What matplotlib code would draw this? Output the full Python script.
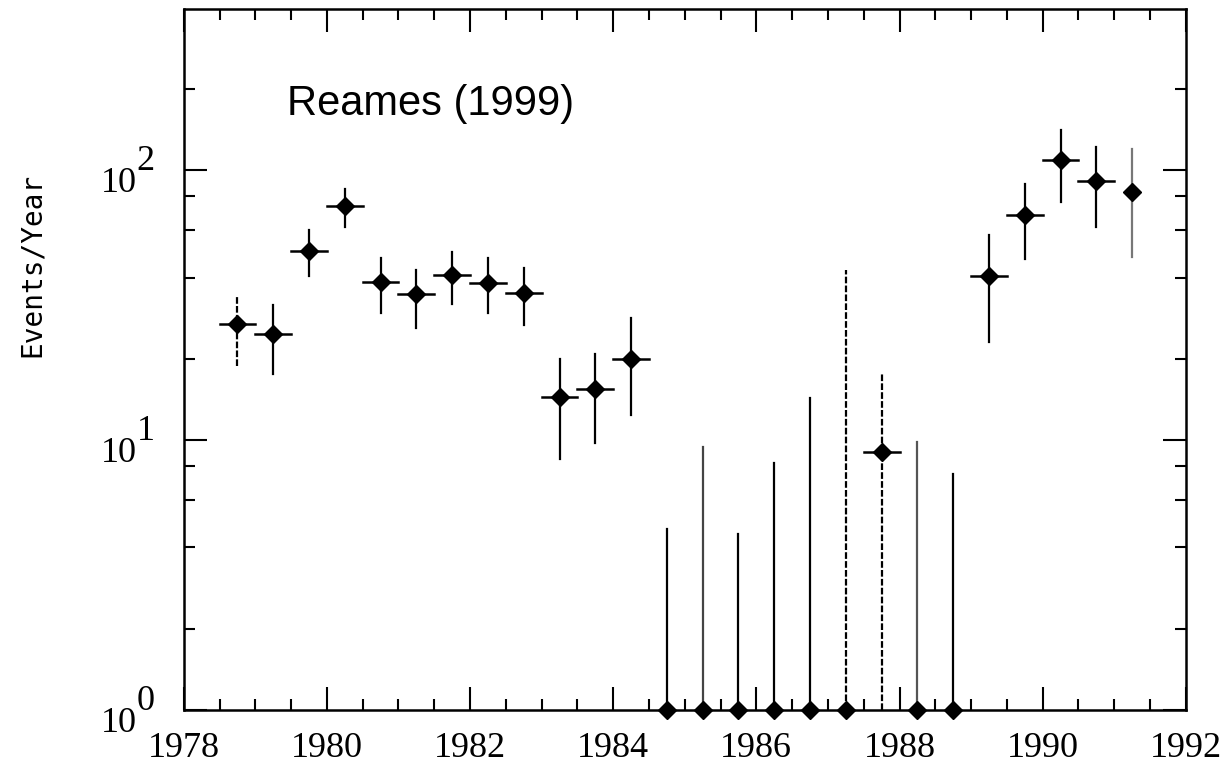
import matplotlib.pyplot as plt
import matplotlib.ticker as mticker
import numpy as np

# Tasa anual de eventos por semestre (centro del bin en años)
anios = [1978.75, 1979.25, 1979.75, 1980.25, 1980.75, 1981.25, 1981.75,
         1982.25, 1982.75, 1983.25, 1983.75, 1984.25, 1984.75, 1985.25,
         1985.75, 1986.25, 1986.75, 1987.25, 1987.75, 1988.25, 1988.75,
         1989.25, 1989.75, 1990.25, 1990.75, 1991.25]
eventos = [26.9, 24.7, 50.1, 73.5, 38.5, 34.7, 40.8, 38.1, 35.0, 14.4,
           15.4, 20.0, 1.0, 1.0, 1.0, 1.0, 1.0, 1.0, 9.0, 1.0, 1.0,
           40.5, 68.1, 108.9, 91.0, 82.9]
cota_sup = [34.4, 31.6, 59.9, 85.0, 47.2, 42.6, 49.7, 47.2, 43.4, 19.9,
            20.8, 28.3, 4.7, 9.4, 4.5, 8.2, 14.3, 42.6, 17.7, 9.8, 7.5,
            57.4, 88.7, 140.7, 121.7, 119.6]
cota_inf = [18.8, 17.5, 40.5, 61.5, 29.5, 26.0, 31.9, 29.5, 26.7, 8.5,
            9.75, 12.4, 1.0, 1.0, 1.0, 1.0, 1.0, 1.0, 1.0, 1.0, 1.0,
            23.1, 46.8, 76.1, 61.5, 47.6]
semiancho = [0.25, 0.25, 0.25, 0.25, 0.25, 0.25, 0.25, 0.25, 0.25, 0.25,
             0.25, 0.25, 0, 0, 0, 0, 0, 0, 0.25, 0, 0,
             0.25, 0.25, 0.25, 0.25, 0]
estilo = ['--', '-', '-', '-', '-', '-', '-', '-', '-', '-', '-', '-', '-',
          '-', '-', '-', '-', '--', '--', '-', '-', '-', '-', '-', '-', '-']
color_barra = ['k'] * 13 + ['#444444'] + ['k'] * 5 + ['#555555', 'k'] + ['k'] * 4 + ['#777777']

anios_x = [1978, 1980, 1982, 1984, 1986, 1988, 1990, 1992]
decadas = [0, 1, 2]

fuente_ejes = 'Liberation Serif'

fig = plt.figure(figsize=(12.25, 7.66), dpi=100)
ax = fig.add_axes([0.150, 0.0731, 0.818, 0.915])
ax.set_yscale('log')

for x, y, ys, yi, dx, ls, c in zip(anios, eventos, cota_sup, cota_inf,
                                   semiancho, estilo, color_barra):
    ax.plot([x, x], [yi, ys], ls=ls, color=c, lw=1.6, clip_on=False,
            dashes=(3, 1) if ls == '--' else (None, None))
    if dx > 0:
        ax.plot([x - dx, x + dx], [y, y], color='k', lw=1.8, clip_on=False)
    ax.plot(x, y, 'D', color='k', ms=9.5, clip_on=False, zorder=5)

ax.set_xlim(1978, 1992)
ax.set_ylim(1, 395)

ax.xaxis.set_major_locator(mticker.FixedLocator(anios_x))
ax.xaxis.set_minor_locator(mticker.MultipleLocator(0.5))
ax.yaxis.set_major_locator(mticker.LogLocator(base=10, numticks=10))
ax.yaxis.set_minor_locator(mticker.LogLocator(base=10, subs=[2, 4, 6, 8], numticks=10))
ax.yaxis.set_minor_formatter(mticker.NullFormatter())
ax.set_yticklabels([])

ax.tick_params(which='both', direction='in', top=True, right=True, width=1.5)
ax.tick_params(which='major', length=16.5)
ax.tick_params(which='minor', length=8)
ax.tick_params(axis='x', which='major', pad=16, labelsize=26)
ax.set_xticklabels([str(a) for a in anios_x], fontfamily=fuente_ejes, fontsize=26)

for s in ax.spines.values():
    s.set_linewidth(1.8)

# etiquetas 10^n con el exponente del mismo tamaño
for k in decadas:
    ax.annotate('10', xy=(0, 10 ** k), xycoords=('axes fraction', 'data'),
                xytext=(-34, -16), textcoords='offset points',
                ha='right', va='baseline', fontsize=26, fontfamily=fuente_ejes)
    ax.annotate(str(k), xy=(0, 10 ** k), xycoords=('axes fraction', 'data'),
                xytext=(-34, 0), textcoords='offset points',
                ha='left', va='baseline', fontsize=26, fontfamily=fuente_ejes)

ax.set_ylabel('Events/Year', fontfamily='DejaVu Sans Mono', fontsize=20)
ax.yaxis.set_label_coords(-0.138, 0.635)

ax.text(0.103, 0.849, 'Reames (1999)', transform=ax.transAxes,
        fontfamily='Liberation Sans', fontsize=30, va='baseline')

fig.savefig('out.png', dpi=100)
